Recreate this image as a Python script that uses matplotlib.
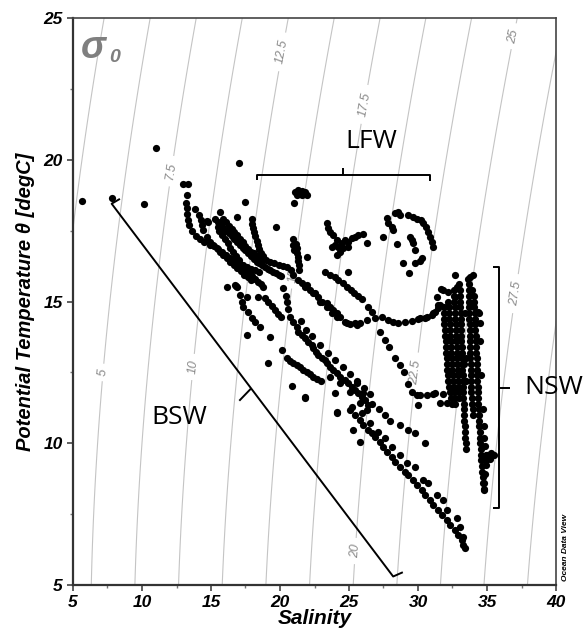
import numpy as np
import matplotlib
matplotlib.use("Agg")
import matplotlib.pyplot as plt

# ---- data (salinity, potential temperature) ----
sal_single = [5.63, 7.8, 10.15, 11.0, 17.0, 17.46, 19.71, 21.0, 16.86, 15.65, 14.69, 14.78, 15.53]
temp_single = [18.56, 18.64, 18.43, 20.4, 19.87, 18.52, 17.62, 18.46, 17.99, 18.16, 17.84, 17.8, 17.64]

sal_lfw_top = [21.09, 21.33, 21.57, 21.81, 21.98, 21.2, 21.57, 21.4, 21.75]
temp_lfw_top = [18.87, 18.93, 18.91, 18.85, 18.76, 18.76, 18.76, 18.85, 18.78]

sal_arc1 = [13.0, 13.3, 13.24, 13.17, 13.24, 13.28, 13.36, 13.4, 13.6, 13.9, 14.2, 14.5, 14.9,
            15.2, 15.5, 15.8, 16.1, 16.4, 16.7, 17.0, 17.3, 17.6, 17.9, 18.2, 18.5]
temp_arc1 = [19.13, 19.13, 18.76, 18.46, 18.29, 18.09, 17.87, 17.7, 17.5, 17.32, 17.2, 17.1, 17.0,
             16.95, 16.85, 16.75, 16.65, 16.55, 16.45, 16.35, 16.3, 16.2, 16.15, 16.1, 16.05]
sal_arc2 = [13.84, 14.15, 14.25, 14.33, 14.44, 14.69, 14.93, 15.17, 15.41, 15.65, 15.9, 16.15,
            16.4, 16.65, 16.9, 17.15, 17.4, 17.65, 17.9]
temp_arc2 = [18.25, 18.05, 17.87, 17.7, 17.52, 17.29, 17.11, 16.99, 16.88, 16.76, 16.64, 16.52,
             16.4, 16.28, 16.17, 16.06, 15.95, 15.85, 15.75]

sal_core1 = [15.3, 15.5, 15.7, 15.9, 16.1, 16.3, 16.5, 16.7, 16.9, 17.1, 17.3, 17.5, 17.7, 17.9,
             18.1, 18.3, 18.5, 18.7, 18.9, 19.1, 19.3, 19.5, 19.7, 19.9, 20.1]
temp_core1 = [17.9, 17.8, 17.7, 17.6, 17.5, 17.4, 17.3, 17.2, 17.1, 17.0, 16.9, 16.8, 16.7, 16.6,
              16.5, 16.4, 16.35, 16.3, 16.2, 16.15, 16.1, 16.05, 16.0, 15.95, 15.9]
sal_core2 = [15.6, 15.8, 16.0, 16.2, 16.4, 16.6, 16.8, 17.0, 17.2, 17.4, 17.6, 17.8, 18.0, 18.2,
             18.4, 18.6, 18.8]
temp_core2 = [17.5, 17.35, 17.2, 17.05, 16.9, 16.75, 16.6, 16.45, 16.3, 16.2, 16.1, 16.0, 15.9,
              15.8, 15.7, 15.6, 15.5]
sal_core3 = [15.9, 16.1, 16.3, 16.5, 16.7, 16.9, 17.1, 17.3, 17.5, 17.7, 17.9, 18.1, 18.3, 18.5,
             18.7, 19.0, 19.3, 19.6, 19.9, 20.2, 20.5, 20.8]
temp_core3 = [17.9, 17.8, 17.65, 17.55, 17.45, 17.35, 17.2, 17.1, 16.95, 16.85, 16.75, 16.7, 16.6,
              16.55, 16.5, 16.45, 16.4, 16.35, 16.3, 16.25, 16.2, 16.1]
sal_steep = [17.95, 18.0, 18.05, 18.1, 18.2, 18.3, 18.4, 18.5, 18.65, 18.8,
             20.95, 20.97, 21.0, 21.16, 21.21, 21.25, 21.27, 21.33, 21.38, 21.4, 21.98]
temp_steep = [17.9, 17.75, 17.6, 17.45, 17.3, 17.15, 17.0, 16.85, 16.7, 16.6,
              17.2, 17.0, 16.8, 17.03, 16.88, 16.72, 16.58, 16.44, 16.29, 16.11, 16.56]

sal_blob = [23.38, 23.5, 23.62, 23.86, 24.1, 23.99, 23.75, 24.23, 24.47, 24.71, 24.95, 25.2,
            25.43, 25.67, 26.04, 26.28, 24.95, 24.35, 24.1, 24.59]
temp_blob = [17.76, 17.58, 17.46, 17.35, 17.17, 16.99, 16.93, 16.93, 17.05, 17.17, 17.11, 17.23,
             17.29, 17.35, 17.37, 17.05, 16.93, 16.76, 16.64, 16.88]

sal_hook = [27.73, 27.85, 28.09, 28.21, 28.33, 28.57, 28.7, 27.48, 28.45, 29.3, 29.61, 29.9, 30.19,
            30.38, 30.58, 30.75, 30.87, 30.99, 31.11, 29.42, 29.54, 29.66, 29.78, 30.27, 30.14,
            28.93, 29.78, 29.37]
temp_hook = [17.93, 17.76, 17.64, 17.52, 18.11, 18.17, 18.05, 17.26, 17.03, 18.05, 17.97, 17.9,
             17.87, 17.76, 17.62, 17.46, 17.29, 17.11, 16.91, 17.29, 17.17, 17.05, 16.82, 16.52,
             16.44, 16.37, 16.35, 16.0]

sal_mix_a = [23.26, 23.62, 23.99, 24.23, 24.59, 24.83, 25.12, 25.36, 25.67, 25.92, 24.95, 26.4]
temp_mix_a = [16.05, 15.93, 15.85, 15.76, 15.64, 15.52, 15.41, 15.31, 15.19, 15.08, 16.05, 14.82]
sal_mix_b = [20.97, 21.33, 21.57, 21.81, 22.17, 22.54, 22.78, 23.02, 23.38, 23.62, 23.86, 24.1,
             24.35, 24.71, 25.07, 25.56, 21.93, 22.41, 22.9, 23.38, 23.75, 24.1, 24.83, 25.43]
temp_mix_b = [15.93, 15.76, 15.64, 15.52, 15.41, 15.29, 15.17, 15.0, 14.94, 14.82, 14.7, 14.58,
              14.46, 14.29, 14.21, 14.17, 15.58, 15.29, 15.0, 14.82, 14.58, 14.46, 14.23, 14.23]
sal_mix_c = [25.8, 26.28, 26.88, 27.37, 27.85, 28.21, 28.57, 29.06, 29.54, 30.02, 30.51, 30.99,
             31.23, 31.47, 31.59, 31.83, 31.35, 30.14, 30.63, 31.11, 26.64]
temp_mix_c = [14.23, 14.35, 14.41, 14.46, 14.35, 14.29, 14.25, 14.29, 14.32, 14.37, 14.41, 14.52,
              14.64, 14.76, 14.88, 15.41, 15.17, 14.41, 14.46, 14.58, 14.64]

sal_branch = [27.25, 27.6, 27.9, 28.3, 28.7, 29.0, 29.3, 29.6, 29.9, 30.65, 31.1, 31.8, 30.0,
              31.59, 32.07, 30.14, 31.23]
temp_branch = [13.92, 13.64, 13.4, 13.0, 12.76, 12.5, 12.1, 11.8, 11.7, 11.7, 11.72, 11.74, 11.35,
               11.43, 11.41, 11.7, 11.76]

sal_mid = [18.91, 19.15, 19.4, 19.64, 19.88, 20.05, 17.1, 17.22, 17.34, 17.7, 17.95, 18.19, 18.55,
           20.24, 20.4, 20.5, 20.6, 16.74, 17.58, 17.58, 19.28, 20.12, 19.16, 20.85, 21.81, 24.1,
           16.14, 16.86, 18.43, 16.81, 21.81, 23.99, 24.1]
temp_mid = [15.11, 15.0, 14.84, 14.7, 14.56, 14.44, 15.23, 15.0, 14.82, 14.64, 14.41, 14.29, 14.09,
            15.46, 15.2, 15.0, 14.75, 15.58, 15.17, 13.82, 13.76, 13.29, 12.82, 12.03, 11.62, 11.08,
            15.52, 15.52, 15.17, 15.55, 11.59, 11.76, 11.11]

sal_straight = [20.48, 20.72, 20.96, 21.21, 21.45, 21.69, 21.93, 22.17, 22.41, 22.66, 22.95]
temp_straight = [13.0, 12.91, 12.82, 12.75, 12.68, 12.58, 12.51, 12.44, 12.35, 12.28, 12.19]

sal_band_b = [20.72, 20.96, 21.21, 21.33, 21.57, 21.81, 22.05, 22.3, 22.41, 22.61, 22.78, 23.02,
              23.26, 23.38, 23.62, 23.86, 24.1, 24.35, 24.71, 24.95, 25.2, 25.43, 25.67, 25.92,
              26.16, 26.4, 21.5, 21.9, 22.3, 22.9, 23.5, 24.0, 24.6, 25.1, 25.6, 26.1, 26.5]
temp_band_b = [14.46, 14.29, 14.11, 13.94, 13.82, 13.7, 13.58, 13.47, 13.35, 13.23, 13.11, 13.0,
               12.94, 12.82, 12.7, 12.58, 12.47, 12.35, 12.23, 12.11, 12.0, 11.88, 11.76, 11.64,
               11.53, 11.35, 14.3, 14.0, 13.8, 13.45, 13.2, 12.95, 12.7, 12.45, 12.2, 11.95, 11.75]

sal_band_a = [25.07, 25.43, 25.8, 26.04, 26.4, 26.64, 26.88, 27.25, 27.49, 27.78, 28.09, 28.33,
              28.7, 29.06, 29.3, 29.66, 29.9, 30.27, 30.51, 30.87, 31.11, 31.47, 31.71, 32.07,
              32.32, 32.68, 32.92, 33.17, 33.28, 33.4,
              25.2, 25.92, 26.52, 27.12, 27.61, 28.09, 28.7, 29.18, 29.78, 30.38, 30.75, 31.35,
              31.83, 32.07, 32.8, 33.04, 33.28,
              23.62, 24.35, 25.07, 25.56, 25.8, 26.04, 26.28]
temp_band_a = [11.17, 11.0, 10.82, 10.64, 10.47, 10.35, 10.23, 10.06, 9.88, 9.7, 9.53, 9.35,
               9.17, 9.0, 8.88, 8.7, 8.53, 8.35, 8.17, 8.0, 7.82, 7.65, 7.47, 7.29,
               7.12, 6.94, 6.76, 6.59, 6.41, 6.29,
               11.29, 11.05, 10.7, 10.41, 10.17, 9.88, 9.59, 9.29, 9.17, 8.7, 8.59, 8.17,
               8.0, 7.65, 7.35, 7.06, 6.7,
               12.35, 12.11, 11.82, 12.11, 11.41, 11.76, 11.17]
sal_band_top = [26.7, 27.2, 27.6, 28.0, 28.7, 29.3, 29.8, 30.5, 25.31, 25.8]
temp_band_top = [11.4, 11.2, 11.0, 10.8, 10.64, 10.47, 10.35, 10.0, 10.47, 10.06]

temp_nsw_a = [14.8, 14.6, 14.4, 14.2, 14.0, 13.8, 13.6, 13.4, 13.2, 13.0, 12.8, 12.6, 12.4, 12.2,
              12.0, 11.8, 11.6, 11.4]
sal_nsw_a = [31.85, 31.88, 31.9, 31.92, 31.95, 31.97, 32.0, 32.02, 32.05, 32.08, 32.1, 32.13,
             32.17, 32.2, 32.25, 32.3, 32.38, 32.45]
temp_nsw_b = [15.0, 14.8, 14.6, 14.4, 14.2, 14.0, 13.8, 13.6, 13.4, 13.2, 13.0, 12.8, 12.6, 12.4,
              12.2, 12.0, 11.8, 11.6, 11.4]
sal_nsw_b = [32.2, 32.22, 32.25, 32.27, 32.3, 32.32, 32.35, 32.37, 32.4, 32.42, 32.45, 32.48,
             32.5, 32.53, 32.56, 32.6, 32.63, 32.67, 32.7]
temp_nsw_c = [15.4, 15.2, 15.0, 14.8, 14.6, 14.4, 14.2, 14.0, 13.8, 13.6, 13.4, 13.2, 13.0, 12.8,
              12.6, 12.4, 12.2, 12.0, 11.8, 11.6]
sal_nsw_c = [32.6, 32.62, 32.64, 32.66, 32.68, 32.7, 32.72, 32.74, 32.76, 32.78, 32.8, 32.82,
             32.84, 32.86, 32.88, 32.9, 32.92, 32.95, 32.98, 33.0]
temp_nsw_d = [15.6, 15.4, 15.2, 15.0, 14.8, 14.6, 14.4, 14.2, 14.0, 13.8, 13.6, 13.4, 13.2, 13.0,
              12.8, 12.6, 12.4, 12.2, 12.0, 11.8, 11.6, 11.4, 11.2, 11.0, 10.8, 10.6, 10.4, 10.2,
              10.0, 9.8]
sal_nsw_d = [33.0, 33.02, 33.03, 33.05, 33.06, 33.08, 33.09, 33.1, 33.12, 33.13, 33.15, 33.16,
             33.18, 33.19, 33.2, 33.22, 33.23, 33.25, 33.26, 33.28, 33.29, 33.3, 33.32, 33.33,
             33.35, 33.37, 33.4, 33.42, 33.45, 33.48]
temp_nsw_e = [15.8, 15.6, 15.4, 15.2, 15.0, 14.8, 14.6, 14.4, 14.2, 14.0, 13.8, 13.6, 13.4, 13.2,
              13.0, 12.8, 12.6, 12.4, 12.2, 12.0, 11.8, 11.6, 11.4, 11.2, 11.0]
sal_nsw_e = [33.65, 33.66, 33.68, 33.69, 33.7, 33.71, 33.72, 33.73, 33.74, 33.75, 33.76, 33.77,
             33.78, 33.79, 33.8, 33.81, 33.82, 33.83, 33.84, 33.85, 33.87, 33.9, 33.92, 33.95, 34.0]
temp_nsw_f = [15.2, 15.0, 14.8, 14.6, 14.4, 14.2, 14.0, 13.8, 13.6, 13.4, 13.2, 13.0, 12.8, 12.6,
              12.4, 12.2, 12.0, 11.8, 11.6, 11.4, 11.2, 11.0, 10.8, 10.6, 10.4, 10.2, 10.0, 9.8,
              9.6, 9.4, 9.2, 9.0, 8.8, 8.6, 8.4]
sal_nsw_f = [34.05, 34.07, 34.09, 34.1, 34.12, 34.14, 34.15, 34.17, 34.19, 34.2, 34.22, 34.24,
             34.25, 34.27, 34.29, 34.3, 34.32, 34.34, 34.35, 34.37, 34.39, 34.4, 34.42, 34.44,
             34.46, 34.48, 34.5, 34.53, 34.56, 34.6, 34.63, 34.66, 34.7, 34.73, 34.77]
sal_nsw_g = [34.45, 34.5, 34.6, 34.7, 34.75, 34.8, 34.85, 34.9, 34.95, 35.0, 35.3, 35.5, 35.2,
             34.95, 34.85, 34.8, 34.75,
             32.68, 32.8, 33.77, 34.0, 33.89, 31.7, 32.2, 32.68, 34.37, 34.49, 31.47, 33.4, 33.45,
             33.5, 33.3]
temp_nsw_g = [14.6, 13.6, 12.4, 11.2, 10.6, 10.2, 9.9, 9.6, 9.4, 9.6, 9.65, 9.6, 9.45, 9.25,
              8.9, 8.6, 8.35,
              15.93, 15.52, 15.88, 15.93, 15.4, 15.43, 15.35, 15.17, 14.64, 14.23, 14.88, 14.6,
              13.0, 12.2, 12.8]

sigma_levels = [2.5, 5, 7.5, 10, 12.5, 15, 17.5, 20, 22.5, 25, 27.5, 30]
sigma_label_pos = [(7.1, 12.5), (12.1, 19.6), (13.5, 12.7), (20.2, 23.8), (21.2, 15.9),
                   (25.6, 22.0), (25.4, 6.2), (30.0, 12.5), (37.5, 24.3), (38.1, 15.2)]


def sigma0(s, t):
    # UNESCO EOS-80 density at surface pressure, minus 1000
    rw = (999.842594 + 6.793952e-2 * t - 9.095290e-3 * t**2 + 1.001685e-4 * t**3
          - 1.120083e-6 * t**4 + 6.536332e-9 * t**5)
    a = 0.824493 - 4.0899e-3 * t + 7.6438e-5 * t**2 - 8.2467e-7 * t**3 + 5.3875e-9 * t**4
    b = -5.72466e-3 + 1.0227e-4 * t - 1.6546e-6 * t**2
    return rw + a * s + b * s**1.5 + 4.8314e-4 * s**2 - 1000.0


font = 'Liberation Sans'
fig = plt.figure(figsize=(5.87, 6.33), dpi=100)
ax = fig.add_axes([73 / 587, 1 - 585 / 633, (556 - 73) / 587, (585 - 18) / 633])

sg, tg = np.meshgrid(np.linspace(4, 41, 300), np.linspace(4, 26, 300))
cs = ax.contour(sg, tg, sigma0(sg, tg), levels=sigma_levels, colors='#c4c4c4',
                linewidths=0.8, zorder=1)
labs = ax.clabel(cs, fmt=lambda v: f'{v:g}', manual=sigma_label_pos, fontsize=9,
                 colors='#8a8a8a', inline=True, inline_spacing=4)
for lab in labs:
    lab.set_fontstyle('italic')
    lab.set_family(font)
    lab.set_zorder(1.5)

groups = [
    (sal_single, temp_single), (sal_lfw_top, temp_lfw_top), (sal_arc1, temp_arc1),
    (sal_arc2, temp_arc2), (sal_core1, temp_core1), (sal_core2, temp_core2),
    (sal_core3, temp_core3), (sal_steep, temp_steep), (sal_blob, temp_blob),
    (sal_hook, temp_hook), (sal_mix_a, temp_mix_a), (sal_mix_b, temp_mix_b),
    (sal_mix_c, temp_mix_c), (sal_branch, temp_branch), (sal_mid, temp_mid),
    (sal_straight, temp_straight), (sal_band_b, temp_band_b), (sal_band_a, temp_band_a),
    (sal_band_top, temp_band_top), (sal_nsw_a, temp_nsw_a), (sal_nsw_b, temp_nsw_b),
    (sal_nsw_c, temp_nsw_c), (sal_nsw_d, temp_nsw_d), (sal_nsw_e, temp_nsw_e),
    (sal_nsw_f, temp_nsw_f), (sal_nsw_g, temp_nsw_g),
]
for s, t in groups:
    ax.scatter(s, t, s=27, c='black', linewidths=0, zorder=3)

# water mass brackets
kw = dict(color='black', lw=1.4, zorder=2, solid_capstyle='butt')
ax.plot([18.3, 18.3, 30.9, 30.9], [19.3, 19.45, 19.45, 19.25], **kw)
ax.plot([24.6, 24.6], [19.45, 19.72], **kw)
ax.text(26.65, 20.64, 'LFW', fontsize=19, family='Open Sans', ha='center', va='center')

ax.plot([8.4, 7.8, 28.2, 28.9], [18.62, 18.45, 5.3, 5.45], **kw)
ax.plot([17.9, 17.05], [11.93, 11.5], **kw)
ax.text(12.68, 10.9, 'BSW', fontsize=19, family='Open Sans', ha='center', va='center')

ax.plot([35.4, 35.85, 35.85, 35.4], [16.2, 16.2, 7.7, 7.7], clip_on=False, **kw)
ax.plot([35.85, 36.67], [11.95, 11.95], clip_on=False, **kw)
ax.text(37.7, 11.95, 'NSW', fontsize=19, family='Open Sans', ha='left', va='center',
        clip_on=False)

ax.text(6.5, 23.95, 'σ', fontsize=27, color='#7f7f7f', fontweight='bold', style='italic',
        family=font, ha='center', va='center')
ax.text(8.0, 23.6, '0', fontsize=14, color='#7f7f7f', fontweight='bold', style='italic',
        family=font, ha='center', va='center')

ax.set_xlim(5, 40)
ax.set_ylim(5, 25)
ax.set_xticks([5, 10, 15, 20, 25, 30, 35, 40])
ax.set_yticks([5, 10, 15, 20, 25])
ax.set_xticks(np.arange(7.5, 40, 5), minor=True)
ax.set_yticks(np.arange(7.5, 25, 5), minor=True)
ax.tick_params(which='major', length=4, width=1.2, direction='out', color='#444')
ax.tick_params(which='minor', length=2.5, width=1.0, direction='out', color='#777')
for lab in ax.get_xticklabels() + ax.get_yticklabels():
    lab.set_fontweight('bold')
    lab.set_fontstyle('italic')
    lab.set_fontsize(12.5)
    lab.set_family(font)
for side in ['left', 'bottom']:
    ax.spines[side].set_linewidth(1.6)
    ax.spines[side].set_color('#333333')
for side in ['top', 'right']:
    ax.spines[side].set_linewidth(1.2)
    ax.spines[side].set_color('#444444')

ax.set_xlabel('Salinity', fontsize=15, fontweight='bold', style='italic', family=font,
              labelpad=-1)
ax.set_ylabel('Potential Temperature θ [degC]', fontsize=14.5, fontweight='bold',
              style='italic', family=font, labelpad=6)
fig.text(0.963, 0.135, 'Ocean Data View', rotation=90, fontsize=6, fontweight='bold',
         style='italic', family=font, ha='center', va='center')

fig.savefig('out.png', dpi=100)
